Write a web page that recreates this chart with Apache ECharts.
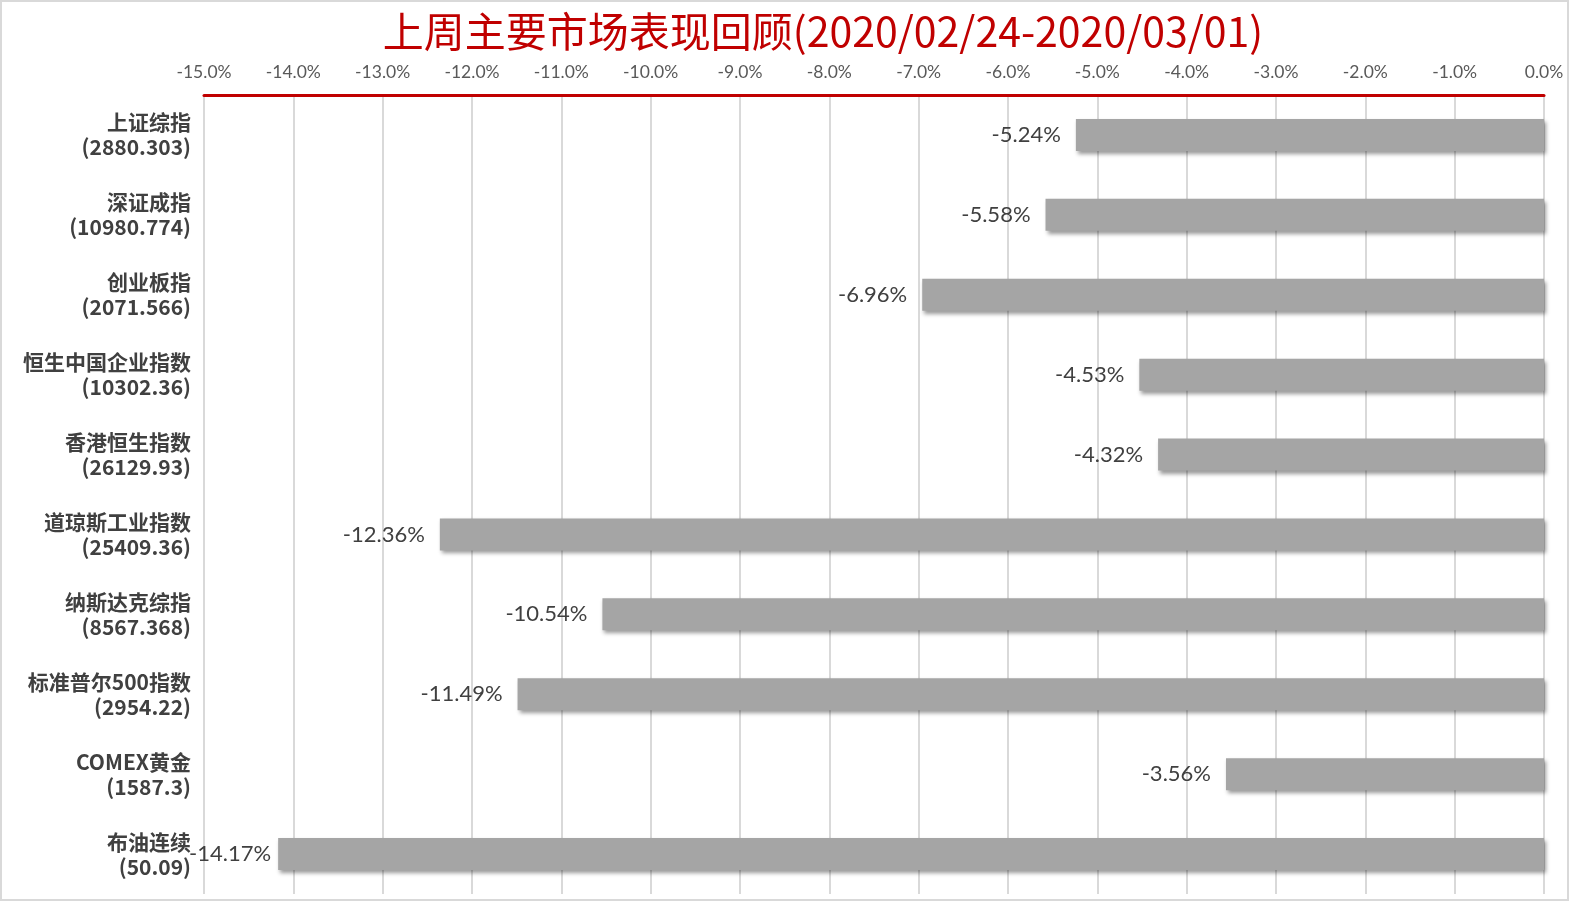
<!DOCTYPE html>
<html>
<head>
<meta charset="utf-8">
<title>上周主要市场表现回顾</title>
<script src="https://cdn.jsdelivr.net/npm/echarts@6/dist/echarts.min.js"></script>
<style>
    html, body { margin: 0; padding: 0; background: #fff; }
    #main { width: 1570px; height: 902px; }
</style>
</head>
<body>
<div id="main"></div>
<script>
// 指数名称
var names = ['上证综指', '深证成指', '创业板指', '恒生中国企业指数', '香港恒生指数', '道琼斯工业指数', '纳斯达克综指', '标准普尔500指数', 'COMEX黄金', '布油连续'];
// 收盘点位
var closes = ['2880.303', '10980.774', '2071.566', '10302.36', '26129.93', '25409.36', '8567.368', '2954.22', '1587.3', '50.09'];
// 周涨跌幅(%)
var changes = [-5.24, -5.58, -6.96, -4.53, -4.32, -12.36, -10.54, -11.49, -3.56, -14.17];

(function() {
    var cats = names.map(function(n, i) {
        return n + '\n(' + closes[i] + ')';
    });
    // 最左边那根标签离柱子近一点，免得压到左边的名字
    var bars = changes.map(function(v) {
        return { value: v, label: { distance: v < -14 ? 7 : 15 } };
    });
    var myechart = echarts.init(document.getElementById('main'));
    var option = {
        animation: false,
        title: {
            text: '上周主要市场表现回顾(2020/02/24-2020/03/01)',
            left: 818,
            top: 6,
            textAlign: 'center',
            textStyle: {
                color: '#c00000',
                fontSize: 41,
                fontWeight: 'normal',
                fontFamily: 'Noto Sans CJK SC'
            }
        },
        graphic: [{
            type: 'rect',
            shape: { x: 1, y: 1, width: 1567, height: 899 },
            style: { fill: 'none', stroke: '#d9d9d9', lineWidth: 2 },
            silent: true
        }],
        grid: {
            left: 204,
            right: 26,
            top: 95,
            bottom: 8
        },
        xAxis: {
            type: 'value',
            position: 'top',
            min: -15,
            max: 0,
            interval: 1,
            axisLine: { show: true, lineStyle: { color: '#c00000', width: 3 } },
            axisTick: { show: false },
            axisLabel: {
                color: '#595959',
                fontSize: 17.5,
                fontFamily: 'Lato',
                margin: 14,
                formatter: function(v) { return v.toFixed(1) + '%'; }
            },
            splitLine: { show: true, lineStyle: { color: '#d9d9d9', width: 2 } }
        },
        yAxis: {
            type: 'category',
            inverse: true,
            data: cats,
            axisLine: { show: false },
            axisTick: { show: false },
            axisLabel: {
                color: '#404040',
                fontSize: 21,
                fontWeight: 'bold',
                fontFamily: 'Noto Sans CJK SC',
                lineHeight: 25,
                align: 'right',
                margin: 13
            },
            splitLine: { show: false }
        },
        series: [{
            type: 'bar',
            data: bars,
            barWidth: '40%',
            itemStyle: {
                color: '#a5a5a5',
                shadowColor: 'rgba(0,0,0,0.4)',
                shadowBlur: 4,
                shadowOffsetX: 2,
                shadowOffsetY: 3
            },
            label: {
                show: true,
                position: 'left',
                color: '#404040',
                fontSize: 22,
                fontFamily: 'Lato',
                formatter: function(p) { return p.value.toFixed(2) + '%'; }
            }
        }]
    };
    myechart.setOption(option);
})();
</script>
</body>
</html>
